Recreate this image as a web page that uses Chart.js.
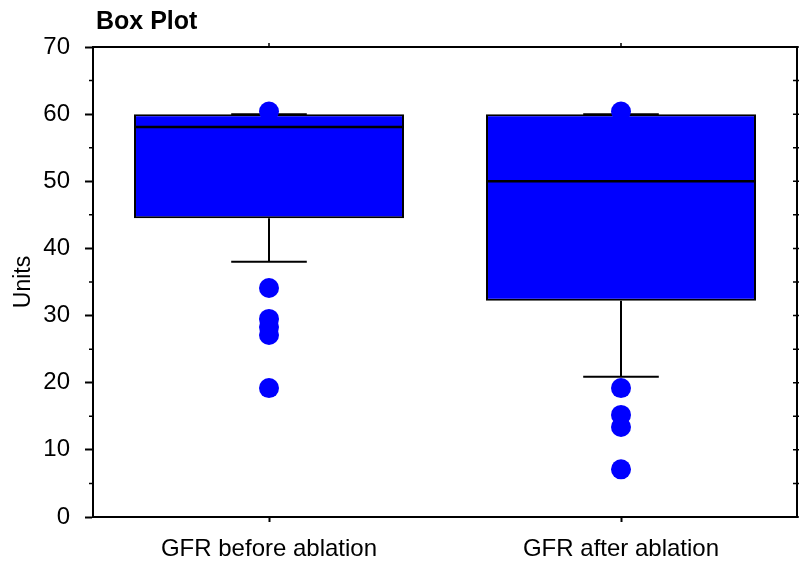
<!DOCTYPE html>
<html>
<head>
<meta charset="utf-8">
<script src="https://cdn.jsdelivr.net/npm/chart.js@4.4.1/dist/chart.umd.min.js"></script>
<style>
  html, body { margin: 0; padding: 0; background: #fff; }
  canvas { display: block; }
</style>
</head>
<body>
<canvas id="boxChart" width="799" height="565"></canvas>
<script>
const categories = ['GFR before ablation', 'GFR after ablation'];
const q1 = [44.5, 32.2];
const median = [58.1, 50.0];
const q3 = [60, 60];
const whiskerLow = [38, 20.9];
const whiskerHigh = [60, 60];
const outliersBefore = [60.4, 34.1, 29.5, 28.3, 27.1, 19.2];
const outliersAfter = [60.4, 19.2, 15.2, 13.4, 7.1];
const yTicks = [0, 10, 20, 30, 40, 50, 60, 70];

const FONT = "'Liberation Sans', Arial, sans-serif";

const outlierPoints = [];
outliersBefore.forEach(v => outlierPoints.push({ x: categories[0], y: v }));
outliersAfter.forEach(v => outlierPoints.push({ x: categories[1], y: v }));

// whiskers + median, drawn right before the outlier dots
const boxLines = {
  id: 'boxLines',
  beforeDatasetDraw(chart, args) {
    if (args.index !== 1) return;
    const ctx = chart.ctx;
    const x = chart.scales.x;
    const y = chart.scales.y;
    const bars = chart.getDatasetMeta(0).data;
    ctx.save();
    ctx.strokeStyle = '#000';
    categories.forEach((c, i) => {
      const cx = x.getPixelForValue(i);
      const w = bars[i].width;
      const capW = w * 0.28;
      ctx.lineWidth = 2;
      ctx.beginPath();
      ctx.moveTo(cx, y.getPixelForValue(q1[i]));
      ctx.lineTo(cx, y.getPixelForValue(whiskerLow[i]));
      ctx.moveTo(cx, y.getPixelForValue(q3[i]));
      ctx.lineTo(cx, y.getPixelForValue(whiskerHigh[i]));
      ctx.moveTo(cx - capW / 2, y.getPixelForValue(whiskerLow[i]));
      ctx.lineTo(cx + capW / 2, y.getPixelForValue(whiskerLow[i]));
      ctx.moveTo(cx - capW / 2, y.getPixelForValue(whiskerHigh[i]));
      ctx.lineTo(cx + capW / 2, y.getPixelForValue(whiskerHigh[i]));
      ctx.stroke();
      ctx.lineWidth = 2.5;
      ctx.beginPath();
      ctx.moveTo(cx - w / 2, y.getPixelForValue(median[i]));
      ctx.lineTo(cx + w / 2, y.getPixelForValue(median[i]));
      ctx.stroke();
    });
    ctx.restore();
  }
};

// frame, minor ticks, title
const frame = {
  id: 'frame',
  afterDraw(chart) {
    const ctx = chart.ctx;
    const a = chart.chartArea;
    const x = chart.scales.x;
    const y = chart.scales.y;
    ctx.save();
    ctx.strokeStyle = '#000';
    ctx.lineWidth = 2;
    ctx.beginPath();
    ctx.moveTo(a.left - 1, a.top);
    ctx.lineTo(a.right, a.top);
    ctx.lineTo(a.right, a.bottom + 1);
    ctx.stroke();

    ctx.lineWidth = 1.5;
    ctx.beginPath();
    for (let v = 0; v <= 70; v += 5) {
      const py = y.getPixelForValue(v);
      if (v % 10 !== 0) {
        ctx.moveTo(a.left - 4, py);
        ctx.lineTo(a.left, py);
      }
      ctx.moveTo(a.right - 4, py);
      ctx.lineTo(a.right + 2, py);
    }
    categories.forEach((c, i) => {
      const px = x.getPixelForValue(i);
      ctx.moveTo(px, a.top);
      ctx.lineTo(px, a.top - 4);
    });
    ctx.stroke();

    ctx.fillStyle = '#000';
    ctx.font = 'bold 25px ' + FONT;
    ctx.textBaseline = 'alphabetic';
    ctx.textAlign = 'left';
    ctx.fillText('Box Plot', 96, 29);
    ctx.restore();
  }
};

new Chart(document.getElementById('boxChart'), {
  type: 'bar',
  data: {
    labels: categories,
    datasets: [
      {
        type: 'bar',
        data: q1.map((v, i) => [v, q3[i]]),
        backgroundColor: '#0000FF',
        borderColor: '#000',
        borderWidth: 2,
        borderSkipped: false,
        barPercentage: 0.767,
        categoryPercentage: 1,
        order: 2
      },
      {
        type: 'line',
        data: outlierPoints,
        showLine: false,
        pointRadius: 10,
        pointBackgroundColor: '#0000FF',
        pointBorderWidth: 0,
        order: 1
      }
    ]
  },
  options: {
    responsive: false,
    animation: false,
    events: [],
    layout: { autoPadding: false, padding: { top: 47, right: 2, left: 0, bottom: 0 } },
    plugins: {
      legend: { display: false },
      tooltip: { enabled: false }
    },
    scales: {
      x: {
        type: 'category',
        offset: true,
        grid: { offset: false, drawOnChartArea: false, tickLength: 5, tickWidth: 2, tickColor: '#000' },
        border: { display: true, color: '#000', width: 2 },
        ticks: { color: '#000', padding: 13, font: { family: FONT, size: 24 } },
        afterFit(scale) { scale.height = 48; }
      },
      y: {
        min: 0,
        max: 70,
        afterBuildTicks(scale) { scale.ticks = yTicks.map(v => ({ value: v })); },
        grid: { drawOnChartArea: false, tickLength: 8, tickWidth: 2, tickColor: '#000' },
        border: { display: true, color: '#000', width: 2 },
        ticks: { color: '#000', padding: 15, font: { family: FONT, size: 24 } },
        title: { display: true, text: 'Units', color: '#000', padding: { top: 10, bottom: 0 }, font: { family: FONT, size: 23 } },
        afterFit(scale) { scale.width = 93; }
      }
    }
  },
  plugins: [boxLines, frame]
});
</script>
</body>
</html>
